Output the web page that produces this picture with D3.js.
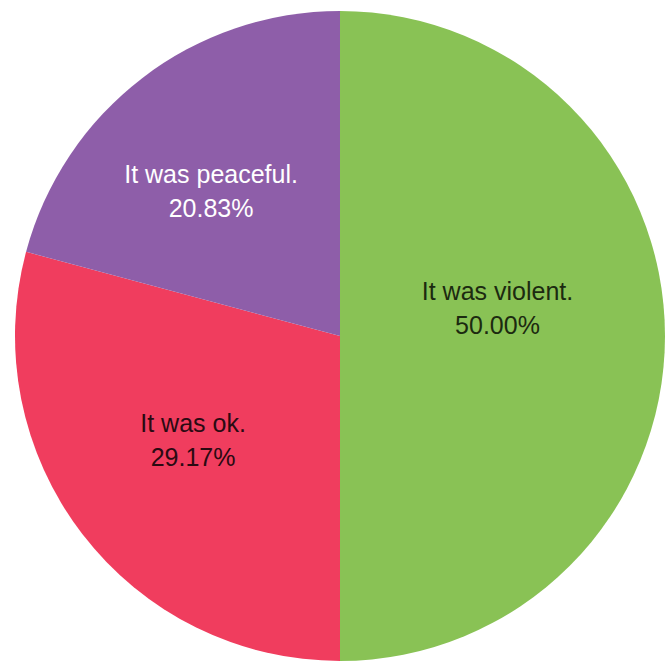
<!DOCTYPE html>
<html>
<head>
<meta charset="utf-8">
<script src="https://cdn.jsdelivr.net/npm/d3@7"></script>
<style>
  html, body { margin: 0; padding: 0; background: #ffffff; }
  svg { display: block; }
</style>
</head>
<body>
<svg id="chart" width="670" height="662"></svg>
<script>
// ---- data ----
const categories = ["It was violent.", "It was ok.", "It was peaceful."];
const values = [50.00, 29.17, 20.83];
const percentLabels = ["50.00%", "29.17%", "20.83%"];

// ---- styles ----
const colors = ["#89c255", "#f03d5e", "#8e5ea9"];
const textColors = ["#1c2a10", "#2a0a12", "#ffffff"];
const labelShift = [[-5, -28], [-18, 5], [-30, -16]];

const width = 670, height = 662;
const cx = 340, cy = 336, r = 325;

const svg = d3.select("#chart");
const g = svg.append("g").attr("transform", `translate(${cx},${cy})`);

const rows = categories.map((c, i) => ({ cat: c, value: values[i], pct: percentLabels[i], i }));

const pie = d3.pie().sort(null).value(d => d.value);
const arc = d3.arc().innerRadius(0).outerRadius(r);
const labelArc = d3.arc().innerRadius(r * 0.5).outerRadius(r * 0.5);

const arcs = pie(rows);

g.selectAll("path.slice")
  .data(arcs)
  .join("path")
  .attr("class", "slice")
  .attr("d", arc)
  .attr("fill", d => colors[d.data.i]);

const labels = g.selectAll("text.lbl")
  .data(arcs)
  .join("text")
  .attr("class", "lbl")
  .attr("text-anchor", "middle")
  .attr("font-family", "'Liberation Sans', Arial, sans-serif")
  .attr("font-size", 25)
  .attr("fill", d => textColors[d.data.i])
  .attr("transform", d => {
    const [x, y] = labelArc.centroid(d);
    const s = labelShift[d.data.i];
    return `translate(${x + s[0]},${y + s[1]})`;
  });

labels.append("tspan").attr("x", 0).attr("y", -8).text(d => d.data.cat);
labels.append("tspan").attr("x", 0).attr("y", 26).text(d => d.data.pct);
</script>
</body>
</html>
